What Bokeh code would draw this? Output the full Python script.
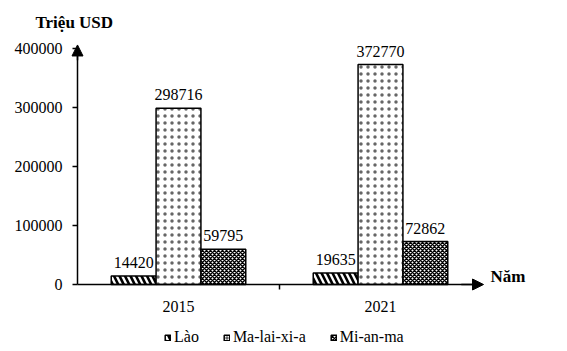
from bokeh.plotting import figure
from bokeh.models import (ColumnDataSource, FixedTicker, Arrow, NormalHead,
                          Label, Legend, LegendItem, LabelSet)
from bokeh.core.properties import value
from bokeh.embed import file_html
from bokeh.resources import INLINE

years = ["2015", "2021"]
series = ["Lào", "Ma-lai-xi-a", "Mi-an-ma"]
lao = [14420, 19635]
malai = [298716, 372770]
mianma = [59795, 72862]
y_ticks = [0, 100000, 200000, 300000, 400000]

FONT = "'Liberation Serif', 'Times New Roman', serif"
W, H = 567, 351
X0, Y0 = 77, 284          # pixel position of the origin
PX_X = 202.0              # pixels per category
PX_Y = 59.0 / 100000      # pixels per unit

x_range = (-X0 / PX_X, (W - X0) / PX_X)
y_range = (-(H - Y0) / PX_Y, Y0 / PX_Y)

p = figure(width=W, height=H, output_backend="svg", toolbar_location=None,
           x_range=x_range, y_range=y_range,
           min_border_left=0, min_border_right=0, min_border_top=0, min_border_bottom=0)
p.outline_line_color = None
p.grid.visible = False
p.background_fill_color = "white"
p.border_fill_color = "white"

centers = [0.5, 1.5]
w = 0.222
offs = [-w, 0, w]
patterns = [("left_diagonal_line", 11, 2.6, "black"), ("dot", 7, 0.8, "#666666"),
            ("diagonal_cross", 4, 1.5, "black")]
vals = [lao, malai, mianma]
renderers = []
for i, (vv, (pat, sc, wt, hc)) in enumerate(zip(vals, patterns)):
    src = ColumnDataSource(dict(x=[c + offs[i] for c in centers], top=vv,
                                lbl=[str(v) for v in vv]))
    r = p.vbar(x="x", top="top", width=w, source=src, fill_color="white",
               line_color="black", line_width=1.5,
               hatch_pattern=pat, hatch_scale=sc, hatch_weight=wt, hatch_color=hc)
    renderers.append(r)
    p.add_layout(LabelSet(x="x", y="top", text="lbl", source=src, text_align="center",
                          text_baseline="bottom", y_offset=8, text_font=value(FONT),
                          text_font_size=value("16px"), text_color="black"))

ya = p.yaxis[0]
ya.fixed_location = 0
ya.bounds = (0, 404000)
ya.ticker = FixedTicker(ticks=y_ticks)
ya.formatter.use_scientific = False
ya.major_tick_in = 0
ya.major_tick_out = 5
ya.minor_tick_out = 0
ya.minor_tick_in = 0
ya.axis_line_width = 1.5
ya.major_tick_line_width = 1.5
ya.major_label_text_font = FONT
ya.major_label_text_font_size = "16px"
ya.major_label_text_color = "black"
ya.major_label_standoff = 10

xa = p.xaxis[0]
xa.fixed_location = 0
xa.bounds = (0, 2.0)
xa.ticker = FixedTicker(ticks=centers, minor_ticks=[1])
xa.major_label_overrides = {0.5: "2015", 1.5: "2021"}
xa.major_tick_in = 0
xa.major_tick_out = 0
xa.minor_tick_in = 0
xa.minor_tick_out = 5
xa.axis_line_width = 1.5
xa.minor_tick_line_width = 1.5
xa.major_label_text_font = FONT
xa.major_label_text_font_size = "16px"
xa.major_label_text_color = "black"
xa.major_label_standoff = 11

p.add_layout(Arrow(end=NormalHead(size=11, fill_color="black", line_color="black"),
                   x_start=0, y_start=380000, x_end=0, y_end=406000,
                   line_width=1.5, line_color="black"))
p.add_layout(Arrow(end=NormalHead(size=11, fill_color="black", line_color="black"),
                   x_start=1.9, y_start=0, x_end=2.01, y_end=0,
                   line_width=1.5, line_color="black"))

p.add_layout(Label(x=35, y=H - 31, x_units="screen", y_units="screen", text="Triệu USD",
                   text_font=FONT, text_font_style="bold", text_font_size="17px",
                   text_color="black"))
p.add_layout(Label(x=490, y=H - 285, x_units="screen", y_units="screen", text="Năm",
                   text_font=FONT, text_font_style="bold", text_font_size="17px",
                   text_color="black"))

legend = Legend(items=[LegendItem(label=s, renderers=[r]) for s, r in zip(series, renderers)],
                orientation="horizontal", location=(164, 5),
                glyph_width=7, glyph_height=7, label_standoff=3, spacing=24,
                padding=0, margin=0, border_line_color=None, background_fill_alpha=0,
                label_text_font=FONT, label_text_font_size="16px", label_text_color="black")
p.add_layout(legend, "center")

open("out.html", "w").write(file_html(p, INLINE))
